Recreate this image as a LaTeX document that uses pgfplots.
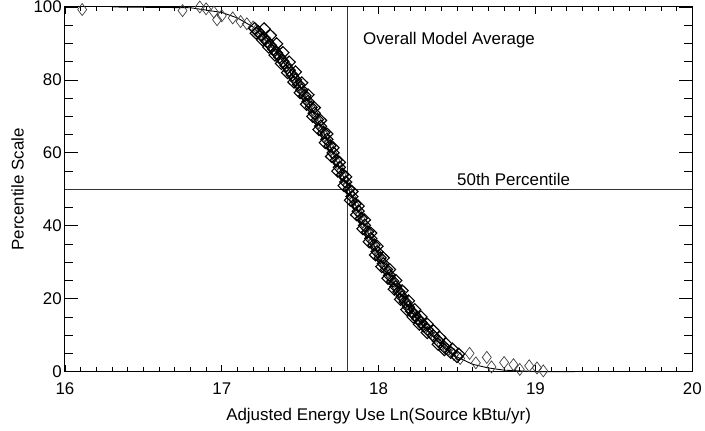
\documentclass[border=0pt]{standalone}
\usepackage{pgfplots}
\pgfplotsset{compat=1.18}
\usepackage{fontspec}
\setmainfont{Liberation Sans}

% percentile vs adjusted energy use, individual buildings (diamonds)
\pgfplotstableread{
x y
16.11 99.3
16.75 99.0
16.86 100
16.90 99.5
16.95 98.6
16.97 96.5
17.00 97.6
17.07 97.0
17.12 96.0
17.16 95.4
17.20 94.5
17.22 93.7
17.24 92.8
17.26 91.9
17.28 91.0
17.30 90.0
17.32 89.0
17.34 87.9
17.36 86.8
17.38 85.7
17.40 84.5
17.42 83.3
17.44 82.0
17.46 80.7
17.48 79.4
17.50 78.0
17.52 76.5
17.54 74.9
17.56 73.3
17.58 71.7
17.60 70.0
17.62 68.2
17.64 66.4
17.66 64.6
17.68 62.8
17.70 61.0
17.72 59.0
17.74 57.0
17.76 55.0
17.78 53.0
17.80 51.0
17.82 49.0
17.84 47.0
17.86 45.0
17.88 43.0
17.90 41.0
17.92 39.2
17.94 37.4
17.96 35.6
17.98 33.8
18.00 32.0
18.02 30.4
18.04 28.8
18.06 27.2
18.08 25.6
18.10 24.0
18.12 22.6
18.14 21.2
18.16 19.8
18.18 18.4
18.20 17.0
18.22 16.0
18.24 15.0
18.26 14.0
18.28 13.0
18.30 12.0
18.33 10.7
18.36 9.3
18.40 7.5
18.44 6.0
18.48 4.7
18.52 3.6
18.58 5.0
18.62 2.4
18.69 3.9
18.72 1.3
18.80 2.5
18.86 1.9
18.90 0.6
18.96 1.6
19.01 1.0
19.05 0.2
}\bldgA

% buildings between those above, on the same curve
\pgfplotstableread{
x y
17.21 94.1
17.23 93.25
17.25 92.35
17.27 91.45
17.29 90.5
17.31 89.5
17.33 88.45
17.35 87.35
17.37 86.25
17.39 85.1
17.41 83.9
17.43 82.65
17.45 81.35
17.47 80.05
17.49 78.7
17.51 77.25
17.53 75.7
17.55 74.1
17.57 72.5
17.59 70.85
17.61 69.1
17.63 67.3
17.65 65.5
17.67 63.7
17.69 61.9
17.71 60.0
17.73 58.0
17.75 56.0
17.77 54.0
17.79 52.0
17.81 50.0
17.83 48.0
17.85 46.0
17.87 44.0
17.89 42.0
17.91 40.1
17.93 38.3
17.95 36.5
17.97 34.7
17.99 32.9
18.01 31.2
18.03 29.6
18.05 28.0
18.07 26.4
18.09 24.8
18.11 23.3
18.13 21.9
18.15 20.5
18.17 19.1
18.19 17.7
18.21 16.5
18.23 15.5
18.25 14.5
18.27 13.5
18.29 12.5
18.31 11.6
18.35 9.8
18.38 8.4
18.42 6.7
18.46 5.3
18.50 4.1
}\bldgM

% a band a little to the right
\pgfplotstableread{
x y
17.27 94.0
17.31 92.2
17.35 89.9
17.39 87.5
17.43 84.9
17.47 82.2
17.51 79.2
17.55 75.9
17.59 72.4
17.63 68.9
17.67 65.2
17.71 61.4
17.75 57.4
17.79 53.4
17.83 49.4
17.87 45.4
17.91 41.6
17.95 38.0
17.99 34.4
18.03 31.2
18.07 28.0
18.11 25.0
18.15 22.2
18.19 19.4
18.23 17.0
18.27 15.0
18.31 13.0
18.35 11.2
18.39 9.4
18.43 7.6
18.47 6.2
18.51 4.8
}\bldgB

% a band a little to the left
\pgfplotstableread{
x y
17.22 92.8
17.26 91.0
17.30 89.0
17.34 86.8
17.38 84.5
17.42 82.0
17.46 79.4
17.50 76.5
17.54 73.3
17.58 70.0
17.62 66.4
17.66 62.8
17.70 59.0
17.74 55.0
17.78 51.0
17.82 47.0
17.86 43.0
17.90 39.2
17.94 35.6
17.98 32.0
18.02 28.8
18.06 25.6
18.10 22.6
18.14 19.8
18.18 17.0
18.22 15.0
18.26 13.0
18.31 10.7
18.38 7.5
18.42 6.0
}\bldgC

% overall model average
\pgfplotstableread{
x y
16.30 100
16.80 99.8
17.00 98.5
17.10 97.0
17.20 94.5
17.30 90.0
17.40 84.5
17.50 78.0
17.60 70.0
17.70 61.0
17.80 51.0
17.90 41.0
18.00 32.0
18.10 24.0
18.20 17.0
18.30 12.0
18.40 7.5
18.50 4.0
18.60 2.0
18.70 1.0
18.80 0.4
19.00 0.0
19.25 0.0
}\avg

\begin{document}
\begin{tikzpicture}
\begin{axis}[
    scale only axis,
    width=628bp, height=365bp,
    xmin=16, xmax=20, ymin=0, ymax=100,
    xtick={16,17,18,19,20},
    ytick={0,20,40,60,80,100},
    minor x tick num=9,
    minor y tick num=3,
    tick align=inside,
    xtick style={/pgfplots/major tick length=7bp, /pgfplots/minor tick length=4.5bp},
    ytick style={/pgfplots/major tick length=13bp, /pgfplots/minor tick length=8bp},
    tick style={black, line width=0.8pt},
    axis line style={line width=1pt},
    font=\fontsize{17}{20}\selectfont,
    /pgf/number format/assume math mode=true,
    xticklabel style={yshift=-8bp},
    yticklabel style={inner sep=0pt, xshift=-3bp},
    xlabel={Adjusted Energy Use Ln(Source kBtu/yr)},
    ylabel={Percentile Scale},
    xlabel style={at={(axis description cs:0.5,0)}, anchor=base, inner sep=0pt, yshift=-49bp},
    ylabel style={at={(axis description cs:0,0.5)}, anchor=center, inner sep=0pt, yshift=47.5bp},
    clip=false,
    diam/.style={only marks, mark=diamond, mark size=6bp,
        mark options={xscale=1.35, draw=black, line width=1.1pt, fill=none}},
]
\addplot[diam, mark options={draw=black!75, line width=0.7pt}] table {\bldgA};
\addplot[diam] table {\bldgM};
\addplot[diam] table {\bldgB};
\addplot[diam] table {\bldgC};
\addplot[black, line width=0.9pt] table {\avg};

\addplot[black!80, line width=0.8pt] coordinates {(17.8,0) (17.8,100)};
\addplot[black!80, line width=0.8pt] coordinates {(16,50) (20,50)};

\node[anchor=base west, inner sep=0pt] at (axis cs:17.90,89.8) {Overall Model Average};
\node[anchor=base west, inner sep=0pt] at (axis cs:18.50,51.1) {50th Percentile};
\end{axis}
% page margins of the reference around the axis box
\path ([xshift=-65bp, yshift=-59bp]current axis.south west)
    rectangle ([xshift=12bp, yshift=7bp]current axis.north east);
\end{tikzpicture}
\end{document}
